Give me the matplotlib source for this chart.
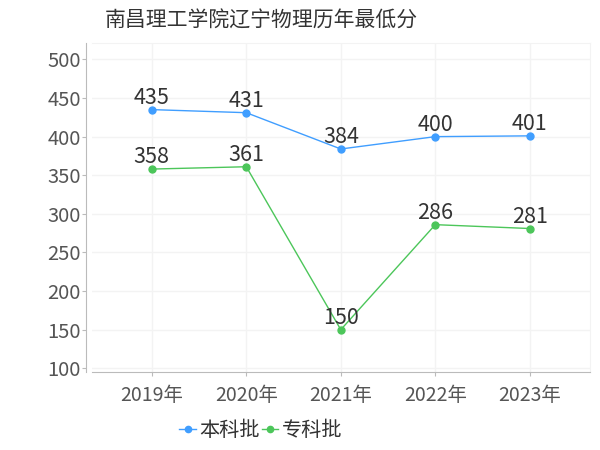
import numpy as np
import matplotlib
matplotlib.use('Agg')
from matplotlib import pyplot as plt

plt.rcParams['font.family'] = ['Noto Sans CJK SC', 'DejaVu Sans']

years = ['2019年', '2020年', '2021年', '2022年', '2023年']
benke = [435, 431, 384, 400, 401]
zhuanke = [358, 361, 150, 286, 281]
yticks = [100, 150, 200, 250, 300, 350, 400, 450, 500]

blue = '#409eff'
green = '#4cc65a'

fig = plt.figure(figsize=(6, 4.5), dpi=100)
ax = fig.add_axes([0.153, 0.173, 0.83, 0.731])
x = np.arange(len(years))

ax.plot(x, benke, color=blue, lw=1, marker='o', ms=5, label='本科批')
ax.plot(x, zhuanke, color=green, lw=1, marker='o', ms=5, label='专科批')
for xi, v in zip(x, benke):
    ax.text(xi, v + 1, str(v), ha='center', va='bottom', fontsize=15.5, color='#333333')
for xi, v in zip(x, zhuanke):
    ax.text(xi, v + 1, str(v), ha='center', va='bottom', fontsize=15.5, color='#333333')

ax.set_xlim(-0.635, 4.635)
ax.set_ylim(95, 521)
ax.set_xticks(x)
ax.set_xticklabels(years)
ax.set_yticks(yticks)
ax.tick_params(axis='both', labelsize=14.5, labelcolor='#555555', color='#bbbbbb', length=3)
ax.tick_params(axis='x', labelsize=14)
ax.tick_params(axis='y', pad=1)
ax.tick_params(axis='x', pad=6)

ax.grid(True, color='#f3f3f3', lw=1)
ax.set_axisbelow(True)
for s in ['top', 'right']:
    ax.spines[s].set_color('#f3f3f3')
ax.spines['left'].set_color('#bbbbbb')
ax.spines['bottom'].set_color('#bbbbbb')
ax.spines['left'].set_position(('outward', 4))

fig.text(0.435, 0.955, '南昌理工学院辽宁物理历年最低分', ha='center', va='center',
         fontsize=15, color='#333333')
fig.legend(loc='center', bbox_to_anchor=(0.435, 0.043), ncol=2, frameon=False,
           fontsize=14.5, handlelength=0.8, handletextpad=0.2, columnspacing=0.1,
           labelcolor='#333333', markerscale=0.9)

fig.savefig('out.png', dpi=100)
